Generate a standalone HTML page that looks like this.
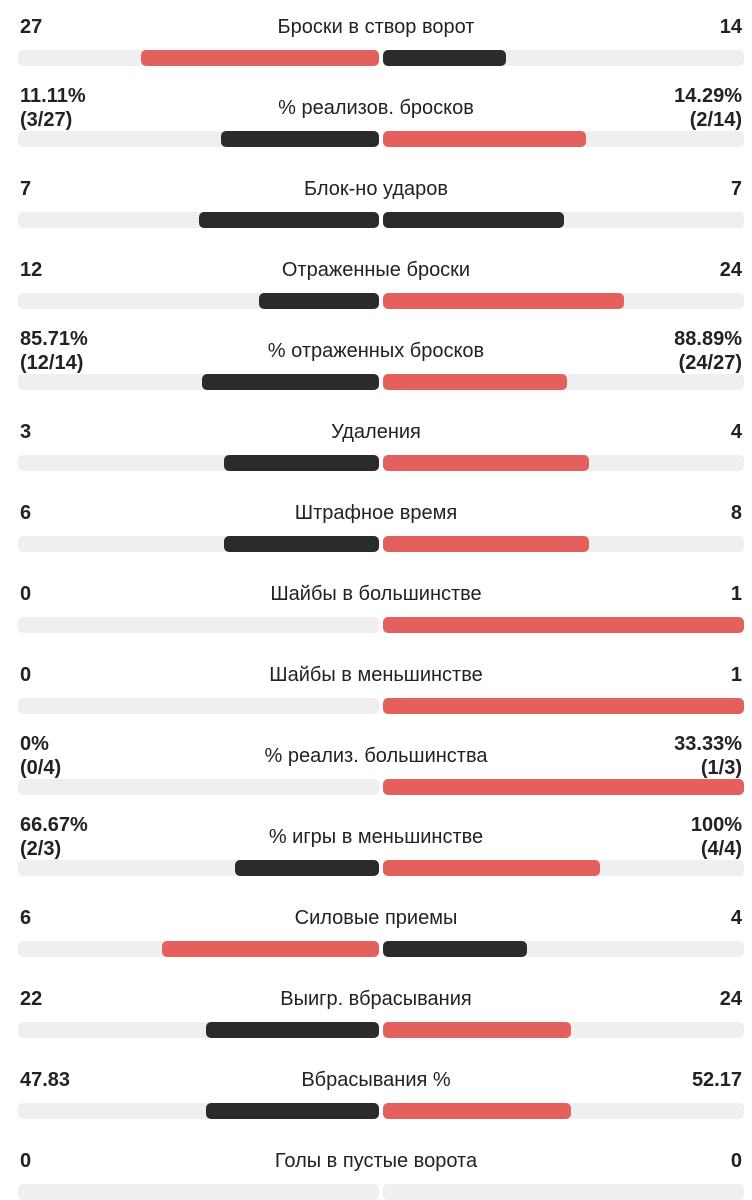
<!DOCTYPE html>
<html><head><meta charset="utf-8">
<style>
html,body{margin:0;padding:0;background:#fff;width:752px;height:1200px;overflow:hidden;position:relative;font-family:"Liberation Sans","DejaVu Sans",sans-serif;color:#222;}
.t{position:absolute;font-size:20px;line-height:24px;white-space:nowrap;}
.v{font-weight:bold;}
.lab{left:0;width:752px;text-align:center;}
.track{position:absolute;height:16px;background:#efefef;border-radius:5px;}
.bar{position:absolute;height:16px;border-radius:5px;}
</style></head><body>
<script>
const labels=["Броски в створ ворот","% реализов. бросков","Блок-но ударов","Отраженные броски","% отраженных бросков","Удаления","Штрафное время","Шайбы в большинстве","Шайбы в меньшинстве","% реализ. большинства","% игры в меньшинстве","Силовые приемы","Выигр. вбрасывания","Вбрасывания %","Голы в пустые ворота"];
const leftValues=[27,11.11,7,12,85.71,3,6,0,0,0,66.67,6,22,47.83,0];
const rightValues=[14,14.29,7,24,88.89,4,8,1,1,33.33,100,4,24,52.17,0];
const leftText=[["27"],["11.11%","(3/27)"],["7"],["12"],["85.71%","(12/14)"],["3"],["6"],["0"],["0"],["0%","(0/4)"],["66.67%","(2/3)"],["6"],["22"],["47.83"],["0"]];
const rightText=[["14"],["14.29%","(2/14)"],["7"],["24"],["88.89%","(24/27)"],["4"],["8"],["1"],["1"],["33.33%","(1/3)"],["100%","(4/4)"],["4"],["24"],["52.17"],["0"]];
const RED="#e3605c",DARK="#2b2b2b";
const W=361,LX=18,RX=383,ROW=81;
function txt(lines,y,side){
  const d=document.createElement('div');
  d.className='t v';
  
  
  d.innerHTML=lines.join('<br>');
  const top=y-12*lines.length;
  d.style.top=top+'px';
  if(side==='left')d.style.left='20px';else{d.style.right='10px';d.style.textAlign='right';}
  document.body.appendChild(d);
}
labels.forEach((lab,i)=>{
  const cy=27+ROW*i,ty=50+ROW*i;
  const l=document.createElement('div');
  l.className='t lab';
  
  
  l.textContent=lab;l.style.top=(cy-12)+'px';
  document.body.appendChild(l);
  txt(leftText[i],cy,'left');txt(rightText[i],cy,'right');
  const tl=document.createElement('div');
  tl.className='track';
  
  
  tl.style.cssText+=`left:${LX}px;width:${W}px;top:${ty}px`;
  document.body.appendChild(tl);
  const tr=document.createElement('div');
  tr.className='track';
  
  
  tr.style.cssText+=`left:${RX}px;width:${W}px;top:${ty}px`;
  document.body.appendChild(tr);
  const a=leftValues[i],b=rightValues[i],tot=a+b;
  if(tot>0){
    const lw=W*a/tot,rw=W*b/tot;
    const lc=a>b?RED:DARK,rc=b>a?RED:DARK;
    if(lw>0){
      const bl=document.createElement('div');
      bl.className='bar';
      
      
      bl.style.cssText+=`left:${LX+W-lw}px;width:${lw}px;top:${ty}px;background:${lc}`;
      document.body.appendChild(bl);
    }
    if(rw>0){
      const br=document.createElement('div');
      br.className='bar';
      
      
      br.style.cssText+=`left:${RX}px;width:${rw}px;top:${ty}px;background:${rc}`;
      document.body.appendChild(br);
    }
  }
});
</script>
</body></html>
